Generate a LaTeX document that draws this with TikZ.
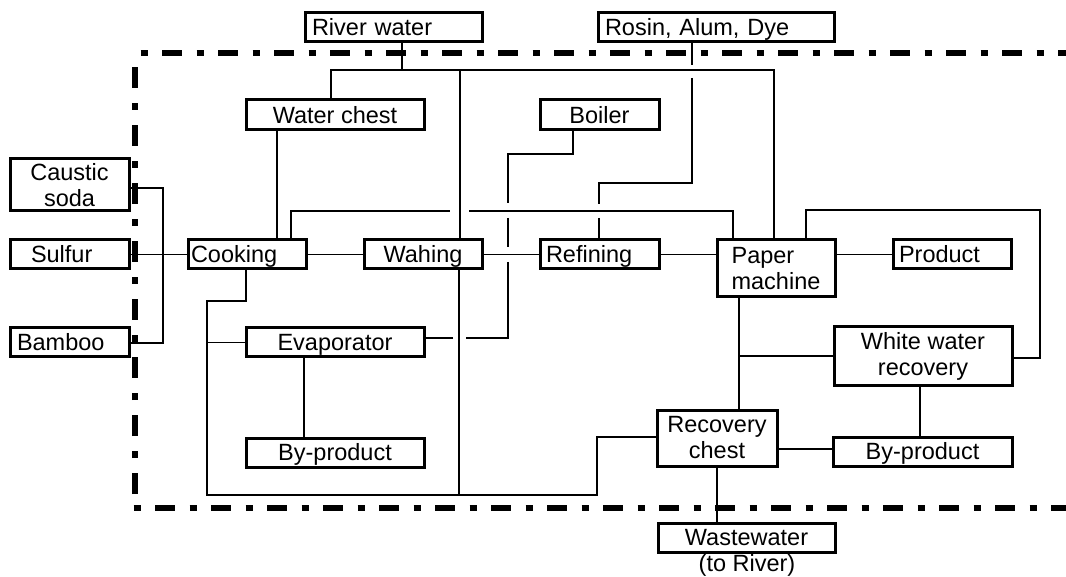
\documentclass[tikz,border=0pt]{standalone}
\usepackage{fontspec}
\setmainfont{Liberation Sans}
\begin{document}
\begin{tikzpicture}[x=1pt,y=-1pt,
  box/.style={draw, line width=3pt, inner sep=0pt, font=\fontsize{23.5}{26}\selectfont},
  one/.style={text height=16.8pt, text depth=0pt},
  lft/.style 2 args={align=left, inner xsep=#1, text width=#2},
  conn/.style={line width=1.4pt},
  limith/.style={line width=5.5pt, dash pattern=on 7pt off 14.5pt on 20pt off 14.5pt},
  limitv/.style={line width=5.5pt, dash pattern=on 21pt off 15pt on 7pt off 15pt}]

\useasboundingbox (0,0) rectangle (1066,577);

% system boundary (dash-dot)
\coordinate (bTL) at (140.5,53);
\coordinate (bTR) at (1066,53);
\coordinate (bLB) at (135,494);
\coordinate (bLT) at (135,60);
\coordinate (bBL) at (133.5,508);
\coordinate (bBR) at (1066,508);
\draw[limith] (bTL) -- (bTR);
\draw[limitv] (bLB) -- (bLT);
\draw[limith] (bBL) -- (bBR);

% boxes
\node[box,one,minimum width=177pt,minimum height=29pt,lft={7pt}{163pt}] (river) at (393.5,27.5) {River water};
\node[box,one,minimum width=236pt,minimum height=29pt,lft={7pt}{222pt}] (rosin) at (716,27.5) {Rosin, Alum, Dye};
\node[box,one,minimum width=178pt,minimum height=30pt] (wchest) at (335,115) {Water chest};
\node[box,one,minimum width=119pt,minimum height=30pt] (boiler) at (599.5,115) {Boiler};
\node[box,minimum width=119pt,minimum height=52pt,align=center] (caustic) at (69.5,185) {Caustic\\soda};
\node[box,one,minimum width=119pt,minimum height=29pt,lft={21pt}{77pt}] (sulfur) at (69.5,254.5) {Sulfur};
\node[box,one,minimum width=119pt,minimum height=29pt,lft={7pt}{105pt}] (bamboo) at (69.5,342.5) {Bamboo};
\node[box,one,minimum width=118pt,minimum height=29pt,lft={3pt}{112pt}] (cooking) at (247,254.5) {Cooking};
\node[box,one,minimum width=118pt,minimum height=29pt] (wahing) at (423,254.5) {Wahing};
\node[box,one,minimum width=119pt,minimum height=29pt,lft={6pt}{107pt}] (refining) at (599.5,254.5) {Refining};
\node[box,minimum width=118pt,minimum height=57pt,align=left] (paper) at (776,268.5) {Paper\\machine};
\node[box,one,minimum width=118pt,minimum height=29pt,lft={6pt}{106pt}] (product) at (952,254.5) {Product};
\node[box,one,minimum width=178pt,minimum height=29pt] (evap) at (335,342.5) {Evaporator};
\node[box,minimum width=178pt,minimum height=58pt,align=center] (wwr) at (923,356) {White water\\recovery};
\node[box,one,minimum width=178pt,minimum height=29pt] (byprodL) at (335,452.5) {By-product};
\node[box,minimum width=120pt,minimum height=56pt,align=center] (recovery) at (717,438) {Recovery\\chest};
\node[box,one,minimum width=179pt,minimum height=29pt] (byprodR) at (922.5,451.5) {By-product};
\node[box,one,minimum width=177pt,minimum height=29pt] (waste) at (746.5,537.5) {Wastewater};
\node[one,inner sep=0pt,font=\fontsize{23.5}{26}\selectfont] (toriver) at (747,563.5) {(to River)};

% river water supply
\coordinate (rv) at (402,70);
\coordinate (rvL) at (331,70);
\coordinate (rvW) at (460,70);
\coordinate (rvR) at (774,70);
\draw[conn] (river.south -| rv) -- (rv);
\draw[conn] (wchest.north -| rvL) -- (rvL) -- (rvR) -- (paper.north -| rvR);
\draw[conn] (rvW) -- (wahing.north -| rvW);

% water chest to cooking
\coordinate (wc) at (277,200);
\draw[conn] (wchest.south -| wc) -- (cooking.north -| wc);

% cooking to paper machine (hops over the washing line)
\coordinate (cp1) at (291,211);
\coordinate (cpa) at (450,211);
\coordinate (cpb) at (469,211);
\coordinate (cp2) at (733,211);
\draw[conn] (cooking.north -| cp1) -- (cp1) -- (cpa);
\draw[conn] (cpb) -- (cp2) -- (paper.north -| cp2);

% rosin, alum, dye to refining
\coordinate (ro1) at (692,65);
\coordinate (ro2) at (692,78);
\coordinate (ro3) at (692,183);
\coordinate (ro4) at (599,183);
\coordinate (ro5) at (599,204);
\coordinate (ro6) at (599,218);
\draw[conn] (rosin.south -| ro1) -- (ro1);
\draw[conn] (ro2) -- (ro3) -- (ro4) -- (ro5);
\draw[conn] (ro6) -- (refining.north -| ro6);

% boiler to evaporator
\coordinate (bo1) at (573,154);
\coordinate (bo2) at (508,154);
\coordinate (bo3) at (508,203);
\coordinate (bo4) at (508,218);
\coordinate (bo5) at (508,247);
\coordinate (bo6) at (508,262);
\coordinate (bo7) at (508,338);
\coordinate (bo8) at (466,338);
\coordinate (bo9) at (453,338);
\draw[conn] (boiler.south -| bo1) -- (bo1) -- (bo2) -- (bo3);
\draw[conn] (bo4) -- (bo5);
\draw[conn] (bo6) -- (bo7) -- (bo8);
\draw[conn] (bo9) -- (evap.east |- bo9);

% chemicals to cooking
\coordinate (cs1) at (163,188);
\coordinate (cs2) at (163,343);
\draw[conn] (caustic.east |- cs1) -- (cs1) -- (cs2) -- (bamboo.east |- cs2);
\draw[conn] (sulfur) -- (cooking);

% main line
\draw[conn] (cooking) -- (wahing);
\draw[conn] (wahing) -- (refining);
\draw[conn] (refining.east) -- (refining.east -| paper.west);
\draw[conn] (product.west -| paper.east) -- (product.west);

% black liquor and return line
\coordinate (ck1) at (246,301);
\coordinate (ck2) at (207,301);
\coordinate (ck3) at (207,495);
\coordinate (ck4) at (597,495);
\coordinate (ck5) at (597,437);
\coordinate (wb) at (459,495);
\draw[conn] (cooking.south -| ck1) -- (ck1) -- (ck2) -- (ck3) -- (ck4) -- (ck5) -- (recovery.west |- ck5);
\draw[conn] (ck2 |- evap.west) -- (evap.west);
\draw[conn] (wahing.south -| wb) -- (wb);
\coordinate (ev) at (304,400);
\draw[conn] (evap.south -| ev) -- (byprodL.north -| ev);

% white water circuit
\coordinate (pp1) at (806,210);
\coordinate (pp2) at (1040,210);
\coordinate (pp3) at (1040,358);
\draw[conn] (paper.north -| pp1) -- (pp1) -- (pp2) -- (pp3) -- (wwr.east |- pp3);
\coordinate (pb) at (739,356);
\draw[conn] (paper.south -| pb) -- (recovery.north -| pb);
\draw[conn] (pb) -- (wwr.west |- pb);
\coordinate (wr) at (920,400);
\draw[conn] (wwr.south -| wr) -- (byprodR.north -| wr);
\coordinate (rb) at (800,449);
\draw[conn] (recovery.east |- rb) -- (byprodR.west |- rb);
\draw[conn] (recovery.south) -- (waste.north -| recovery.south);

\end{tikzpicture}
\end{document}
